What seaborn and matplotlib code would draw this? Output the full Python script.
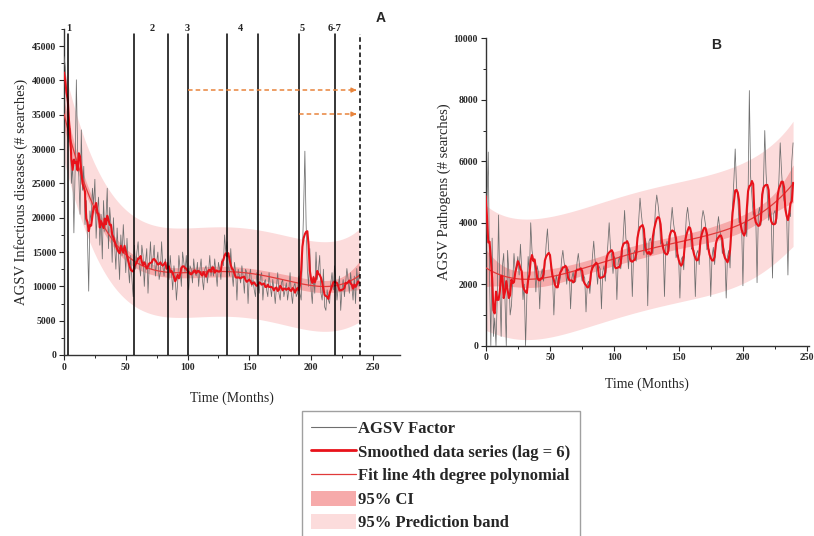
import numpy as np
import pandas as pd
import matplotlib
matplotlib.use("Agg")
import matplotlib.pyplot as plt
from matplotlib.lines import Line2D
from matplotlib.patches import Patch
from matplotlib.ticker import MultipleLocator
import seaborn as sns

# raw monthly searches, one row per year (panel A: infectious diseases)
infectious = [
    43500, 42000, 38000, 36500, 31000, 33000, 25000, 28000, 17800, 27000, 40100, 30000,
    26000, 20500, 32800, 24000, 27500, 19000, 22500, 17000, 9300, 21000, 19500, 24300,
    22000, 25600, 17000, 21000, 23000, 16000, 20500, 14000, 22500, 18000, 20000, 24300,
    15500, 21500, 19000, 13500, 20000, 16000, 12500, 18500, 15000, 11000, 17500, 14500,
    19000, 15500, 12000, 17000, 13000, 10500, 14500, 11000, 8500, 16000, 12500, 15000,
    16500, 13000, 11500, 16000, 14500, 10000, 13500, 15500, 9000, 13000, 16500, 12500,
    14000, 16000, 11500, 13500, 15000, 11000, 12000, 16500, 13000, 11500, 14000, 12500,
    13500, 11000, 14500, 12000, 9500, 13000, 11500, 8000, 10500, 14500, 12500, 10000,
    15000, 13500, 12000, 14500, 11000, 9500, 13000, 12500, 10500, 14000, 12000, 11500,
    13500, 10000, 12500, 14000, 11000, 9500, 12500, 13000, 10500, 12000, 14500, 11500,
    13000, 11500, 14000, 12000, 10000, 13500, 12500, 11000, 14000, 13000, 17500, 15000,
    16500, 13000, 11500, 15500, 12000, 10000, 13500, 12000, 8000, 12500, 11500, 10500,
    13000, 11500, 9000, 12500, 12000, 7500, 11500, 12500, 10000, 11000, 9500, 8500,
    12000, 10500, 9000, 11500, 12000, 8000, 10500, 11000, 9500, 8500, 12000, 10000,
    8500, 11000, 9500, 7500, 10000, 12000, 9000, 8000, 10500, 11000, 8500, 9500,
    10500, 8000, 9500, 12000, 9000, 7500, 10000, 10500, 8500, 9000, 11500, 9000,
    8000, 15000, 21500, 29700, 19000, 12500, 10000, 15500, 9500, 7500, 11500, 9000,
    15000, 11000, 12500, 14500, 9000, 8000, 12500, 7000, 6500, 9500, 8000, 7500,
    10500, 12000, 9500, 13000, 11000, 8000, 10000, 11500, 6500, 9500, 11000, 8500,
    10500, 12600, 11000, 9000, 12000, 10000, 8000, 11500, 7500, 12600, 10000, 12000,
]

# raw monthly searches, one row per year (panel B: pathogens)
pathogens = [
    3600, 4700, 6300, 2200, 0, 3500, 300, 900, 0, 1600, 4250, 1900,
    300, 2600, 3000, 1500, 0, 3100, 2400, 1000, 1300, 2100, 3000, 2400,
    2600, 2900, 2300, 3300, 2500, 1500, 2000, 0, 1600, 2900, 2300, 4000,
    3100, 2800, 2600, 1750, 2600, 2400, 1200, 2300, 2500, 2100, 2600, 3300,
    3800, 3100, 2900, 2400, 2200, 1000, 2000, 2300, 1900, 2000, 2200, 2800,
    3100, 2700, 2500, 2000, 2500, 2400, 1200, 2200, 2400, 2050, 2100, 2700,
    3000, 2600, 2400, 2100, 2300, 2200, 1100, 2000, 2100, 1700, 2300, 2900,
    3400, 2800, 2500, 2000, 2600, 2500, 1200, 2400, 2600, 2100, 2700, 3300,
    4000, 3200, 2900, 2350, 2900, 2800, 1500, 2700, 2900, 2500, 2900, 3600,
    4400, 3500, 3200, 2500, 3200, 3000, 1600, 3000, 3100, 2750, 3300, 4100,
    4800, 4300, 3900, 2950, 3500, 3300, 1300, 3400, 3500, 3300, 3000, 3600,
    4500, 4900, 4600, 4200, 3300, 3400, 3300, 1600, 3200, 3400, 3000, 3300,
    4000, 4500, 4000, 3700, 2860, 3000, 2900, 1550, 2800, 2900, 2470, 3400,
    4200, 4500, 4100, 3800, 3140, 3200, 3100, 1600, 3000, 3100, 2640, 3300,
    4100, 4400, 4200, 3900, 3120, 3200, 3100, 1600, 2900, 3200, 2640, 3200,
    3800, 4200, 3800, 3500, 3000, 3200, 3000, 1550, 2900, 3100, 2530, 3900,
    4600, 5400, 6400, 5200, 4800, 4000, 4100, 3900, 1950, 3900, 4100, 3550,
    4800, 8300, 5500, 4900, 4250, 4400, 4200, 2050, 4300, 4500, 3930, 4500,
    5300, 7000, 5600, 4900, 4080, 4500, 4300, 2200, 4300, 4400, 3980, 4600,
    5400, 6600, 5700, 5000, 4710, 4600, 4300, 2300, 4400, 4200, 6000, 6600,
]

event_months = [3.5, 57, 84, 100, 132, 157, 190, 219.5]
event_labels = ["1", "2", "3", "4", "5", "6-7"]
event_label_x = [3.5, 71, 100, 143, 192.5, 219]

RAW_C = "#6e6e6e"
SMOOTH_C = "#e8121a"
FIT_C = "#e03a3a"
CI_C = "#f6aaaa"
PI_C = "#fcdcdc"


def poly_bands(x, y, deg=4, t=1.97):
    xs = x / 240.0
    X = np.vander(xs, deg + 1)
    beta, *_ = np.linalg.lstsq(X, y, rcond=None)
    fit = X @ beta
    resid = y - fit
    s2 = resid @ resid / (len(y) - deg - 1)
    inv = np.linalg.inv(X.T @ X)
    h = np.einsum("ij,jk,ik->i", X, inv, X)
    return fit, t * np.sqrt(s2 * h), t * np.sqrt(s2 * (1 + h))


def draw_panel(ax, values):
    y = np.array(values, dtype=float)
    months = np.arange(len(y))
    df = pd.DataFrame({"month": months, "raw": y})
    # lag 6 moving average
    df["smooth"] = df["raw"].rolling(6, center=True, min_periods=1).mean()
    fit, ci, pi = poly_bands(months.astype(float), y)
    df["fit"] = fit

    ax.fill_between(months, fit - pi, fit + pi, color=PI_C, lw=0, zorder=1)
    ax.fill_between(months, fit - ci, fit + ci, color=CI_C, lw=0, zorder=2)
    sns.lineplot(data=df, x="month", y="raw", ax=ax, color=RAW_C, lw=0.55, zorder=3)
    sns.lineplot(data=df, x="month", y="fit", ax=ax, color=FIT_C, lw=0.9, zorder=4)
    sns.lineplot(data=df, x="month", y="smooth", ax=ax, color=SMOOTH_C, lw=1.5, zorder=5)


sns.set_theme(style="ticks")
plt.rcParams["font.family"] = ["Liberation Serif", "DejaVu Serif"]

fig = plt.figure(figsize=(8.14, 5.36), dpi=100)
axA = fig.add_axes([64 / 814, 181 / 536, 336 / 814, 326 / 536])
axB = fig.add_axes([485.7 / 814, 190.3 / 536, 322.8 / 814, 307.4 / 536])

draw_panel(axA, infectious)
draw_panel(axB, pathogens)

# panel A decorations: event lines, labels and arrows
for m in event_months:
    axA.axvline(m, ymax=0.985, color="black", lw=1.1, zorder=6)
axA.axvline(239.5, ymax=0.985, color="black", lw=1.1, ls=(0, (3, 2)), zorder=6)
for lab, xl in zip(event_labels, event_label_x):
    axA.text(xl, 47600, lab, ha="center", va="center", fontsize=7.5,
             fontweight="bold", clip_on=False)
for x0, yv in [(100, 38600), (190, 35100)]:
    axA.plot([x0, 236], [yv, yv], color="#e8843c", lw=1.1, ls=(0, (3, 2)), zorder=7)
    axA.annotate("", xy=(239, yv), xytext=(233, yv),
                 arrowprops=dict(arrowstyle="-|>", color="#e8843c", lw=1.0,
                                 mutation_scale=7), zorder=7)

axA.set_xlim(0, 272)
axA.set_ylim(0, 47500)
axA.set_xticks(range(0, 251, 50))
axA.set_yticks(range(0, 45001, 5000))
axA.yaxis.set_minor_locator(MultipleLocator(2500))
axA.set_ylabel("AGSV Infectious diseases (# searches)", fontsize=10.5, labelpad=3)
axA.set_xlabel("Time (Months)", fontsize=10, labelpad=14)

axB.set_xlim(0, 251)
axB.set_ylim(0, 10000)
axB.set_xticks(range(0, 251, 50))
axB.set_yticks(range(0, 10001, 2000))
axB.yaxis.set_minor_locator(MultipleLocator(1000))
axB.set_ylabel("AGSV Pathogens (# searches)", fontsize=10.5, labelpad=2)
axB.set_xlabel("Time (Months)", fontsize=10, labelpad=11)

for ax in (axA, axB):
    sns.despine(ax=ax)
    ax.xaxis.set_minor_locator(MultipleLocator(25))
    ax.tick_params(which="major", direction="out", length=3.5, width=0.8, labelsize=7, pad=2)
    ax.tick_params(which="minor", direction="out", length=2, width=0.7)
    plt.setp(ax.get_xticklabels() + ax.get_yticklabels(), fontweight="bold")
    for sp in ax.spines.values():
        sp.set_linewidth(1.0)
        sp.set_color("#333333")

fig.text(381 / 814, 1 - 18 / 536, "A", fontsize=10, fontweight="bold",
         family="Liberation Sans", ha="center", va="center")
fig.text(716 / 814, 1 - 45 / 536, "B", fontsize=10, fontweight="bold",
         family="Liberation Sans", ha="center", va="center")

handles = [
    Line2D([], [], color=RAW_C, lw=0.8),
    Line2D([], [], color=SMOOTH_C, lw=2.0),
    Line2D([], [], color=FIT_C, lw=0.9),
    Patch(facecolor=CI_C, edgecolor="none"),
    Patch(facecolor=PI_C, edgecolor="none"),
]
labels = ["AGSV Factor", "Smoothed data series (lag = 6)", "Fit line 4th degree polynomial",
          "95% CI", "95% Prediction band"]
leg = fig.legend(handles, labels, loc="upper left", bbox_to_anchor=(302 / 814, 1 - 411 / 536),
                 prop=dict(family="Liberation Serif", weight="bold", size=12),
                 frameon=True, fancybox=False, edgecolor="#888888", borderpad=0.55,
                 handlelength=2.7, handleheight=1.0, handletextpad=0.12, labelspacing=0.38,
                 borderaxespad=0)
leg.get_frame().set_linewidth(1.0)
leg._legend_box.set_offset  # keep default packing
leg.borderpad = 0.55

fig.savefig("out.png", dpi=100)
